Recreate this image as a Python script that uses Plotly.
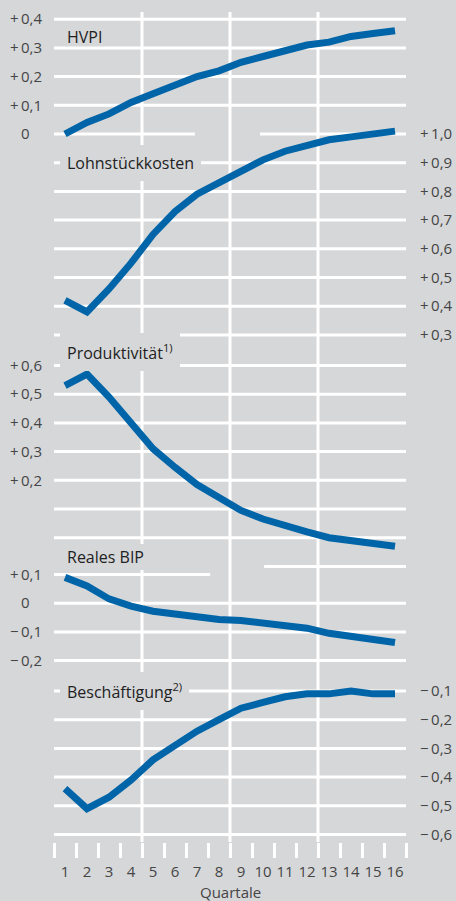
import plotly.graph_objects as go

# ---------------- data ----------------
quarters = list(range(1, 17))
quarter_labels = [str(q) for q in quarters]

hvpi = [0.00, 0.04, 0.07, 0.11, 0.14, 0.17, 0.20, 0.22, 0.25, 0.27, 0.29, 0.31, 0.32, 0.34, 0.35, 0.36]
lohnstueckkosten = [0.42, 0.38, 0.46, 0.55, 0.65, 0.73, 0.79, 0.83, 0.87, 0.91, 0.94, 0.96, 0.98, 0.99, 1.00, 1.01]
produktivitaet = [0.53, 0.57, 0.49, 0.40, 0.31, 0.245, 0.185, 0.14, 0.095, 0.065, 0.04, 0.02, 0.00, -0.01, -0.02, -0.03]
reales_bip = [0.09, 0.06, 0.015, -0.01, -0.028, -0.038, -0.048, -0.057, -0.06, -0.07, -0.08, -0.087, -0.105, -0.115, -0.125, -0.137]
beschaeftigung = [-0.44, -0.51, -0.47, -0.41, -0.34, -0.29, -0.24, -0.20, -0.16, -0.14, -0.12, -0.11, -0.11, -0.10, -0.11, -0.11]

hvpi_ticks = [0.0, 0.1, 0.2, 0.3, 0.4]
lohn_ticks = [0.3, 0.4, 0.5, 0.6, 0.7, 0.8, 0.9, 1.0]
prod_ticks_left = [0.2, 0.3, 0.4, 0.5, 0.6]
prod_ticks_right = [-0.1, 0.0, 0.1, 0.2]
bip_ticks = [-0.2, -0.1, 0.0, 0.1]
besch_ticks = [-0.6, -0.5, -0.4, -0.3, -0.2, -0.1]

titles = ["HVPI", "Lohnstückkosten", "Produktivität<sup>1)</sup>", "Reales BIP", "Beschäftigung<sup>2)</sup>"]
x_title = "Quartale"

# ---------------- style ----------------
BG = "#d6d7d9"
BLUE = "#0065a8"
TICK_COLOR = "#454545"
TITLE_COLOR = "#222222"
FONT = "Open Sans"

W, H = 456, 901
TOP_PX, BOTTOM_PX = 12, 842
LEFT_PX, RIGHT_PX = 54, 406
PX_PER_UNIT = 287.0


def yrange(ref_val, ref_px):
    return [ref_val - (BOTTOM_PX - ref_px) / PX_PER_UNIT,
            ref_val + (ref_px - TOP_PX) / PX_PER_UNIT]


def lab_left(v):
    if abs(v) < 1e-9:
        return "0\u2008\u2007"
    s = "+" if v > 0 else "\u2212"
    return (s + "\u2009" + f"{abs(v):.1f}").replace(".", ",")


def lab_right(v):
    if abs(v) < 1e-9:
        return "\u2007\u20090"
    s = "+" if v > 0 else "\u2212"
    return (s + "\u2009" + f"{abs(v):.1f}").replace(".", ",")


rng_hvpi = yrange(0.0, 134)
rng_lohn = yrange(1.0, 134)
rng_prod = yrange(0.6, 365.5)
rng_bip = yrange(0.1, 574.5)
rng_besch = yrange(-0.1, 691)

fig = go.Figure()
series = [(hvpi, "y"), (lohnstueckkosten, "y2"), (produktivitaet, "y3"),
          (reales_bip, "y5"), (beschaeftigung, "y6")]
for vals, ax in series:
    fig.add_trace(go.Scatter(x=quarters, y=vals, yaxis=ax, mode="lines",
                             line=dict(color=BLUE, width=7), showlegend=False,
                             hoverinfo="skip"))


def yax(rng, ticks, side, labf, overlay=True):
    d = dict(range=rng, domain=[0, 1], side=side, tickmode="array",
             tickvals=ticks, ticktext=[labf(v) for v in ticks],
             showgrid=False, zeroline=False, showline=False,
             ticks="outside", ticklen=8 if side == "left" else 10,
             tickcolor="rgba(0,0,0,0)", automargin=False,
             tickfont=dict(family=FONT, size=15, color=TICK_COLOR),
             fixedrange=True, anchor="x")
    if overlay:
        d["overlaying"] = "y"
    return d


fig.update_layout(
    width=W, height=H, autosize=False,
    margin=dict(l=LEFT_PX, r=W - RIGHT_PX, t=TOP_PX, b=H - BOTTOM_PX,
                autoexpand=False),
    paper_bgcolor=BG, plot_bgcolor=BG,
    font=dict(family=FONT, color=TICK_COLOR),
    xaxis=dict(range=[0.5, 16.5], tickmode="array", tickvals=quarters,
               ticktext=quarter_labels, ticks="outside", ticklen=16,
               tickcolor="rgba(0,0,0,0)", showgrid=False, zeroline=False,
               showline=False, automargin=False,
               tickfont=dict(family=FONT, size=15, color=TICK_COLOR),
               minor=dict(tickmode="linear", tick0=0.5, dtick=1, ticks="outside",
                          ticklen=15, tickwidth=3, tickcolor="white", showgrid=False),
               fixedrange=True),
    yaxis=yax(rng_hvpi, hvpi_ticks, "left", lab_left, overlay=False),
    yaxis2=yax(rng_lohn, lohn_ticks, "right", lab_right),
    yaxis3=yax(rng_prod, prod_ticks_left, "left", lab_left),
    yaxis4=yax(rng_prod, prod_ticks_right, "right", lab_right),
    yaxis5=yax(rng_bip, bip_ticks, "left", lab_left),
    yaxis6=yax(rng_besch, besch_ticks, "right", lab_right),
)

# axis title as annotation below the tick labels
fig.add_annotation(text=x_title, xref="paper", yref="paper", x=0.5,
                   y=-(892 - BOTTOM_PX) / (BOTTOM_PX - TOP_PX),
                   xanchor="center", yanchor="middle", showarrow=False,
                   font=dict(family=FONT, size=15, color=TICK_COLOR))

# ---------------- grid lines (decoration) ----------------
GRID = dict(color="white", width=3)
full_grid = [("y", [0.1, 0.2, 0.3, 0.4]),
             ("y2", [0.3, 0.4, 0.5, 0.6, 0.7, 0.8, 0.9]),
             ("y3", [0.0, 0.1, 0.2, 0.3, 0.4, 0.5, 0.6]),
             ("y5", [-0.2, -0.1, 0.0]),
             ("y6", [-0.6, -0.5, -0.4, -0.3, -0.2, -0.1])]
partial_grid = [("y", 0.0, 0.5, 6.9),
                ("y2", 1.0, 9.86, 16.5),
                ("y3", -0.1, 10.05, 16.5),
                ("y5", 0.1, 0.5, 7.6)]
shapes = []
for ax, vals in full_grid:
    for v in vals:
        shapes.append(dict(type="line", xref="x", yref=ax, x0=0.5, x1=16.5,
                           y0=v, y1=v, line=GRID, layer="below"))
for ax, v, xa, xb in partial_grid:
    shapes.append(dict(type="line", xref="x", yref=ax, x0=xa, x1=xb,
                       y0=v, y1=v, line=GRID, layer="below"))
for xv in [4.5, 8.5, 12.5]:
    shapes.append(dict(type="line", xref="x", yref="paper", x0=xv, x1=xv,
                       y0=0, y1=1, line=GRID, layer="below"))
fig.update_layout(shapes=shapes)

# ---------------- panel titles ----------------
# (axis, value, border padding) ; text starts at ~68 px
title_pos = [("y", 0.338, 0), ("y2", 0.9, 7), ("y3", 0.647, 7),
             ("y5", 0.161, 2), ("y6", -0.1, 7)]
for (ax, yv, pad), txt in zip(title_pos, titles):
    fig.add_annotation(text=txt, xref="paper", yref=ax,
                       x=(67 - pad - LEFT_PX) / (RIGHT_PX - LEFT_PX),
                       y=yv, xanchor="left", yanchor="middle", showarrow=False,
                       font=dict(family=FONT, size=16, color=TITLE_COLOR),
                       bgcolor=BG if pad else "rgba(0,0,0,0)", borderpad=pad,
                       borderwidth=0)

fig.write_html("out.html",
               config={"displayModeBar": False},
               post_script="document.body.style.margin='0px';"
                           "document.body.style.overflow='hidden';")
